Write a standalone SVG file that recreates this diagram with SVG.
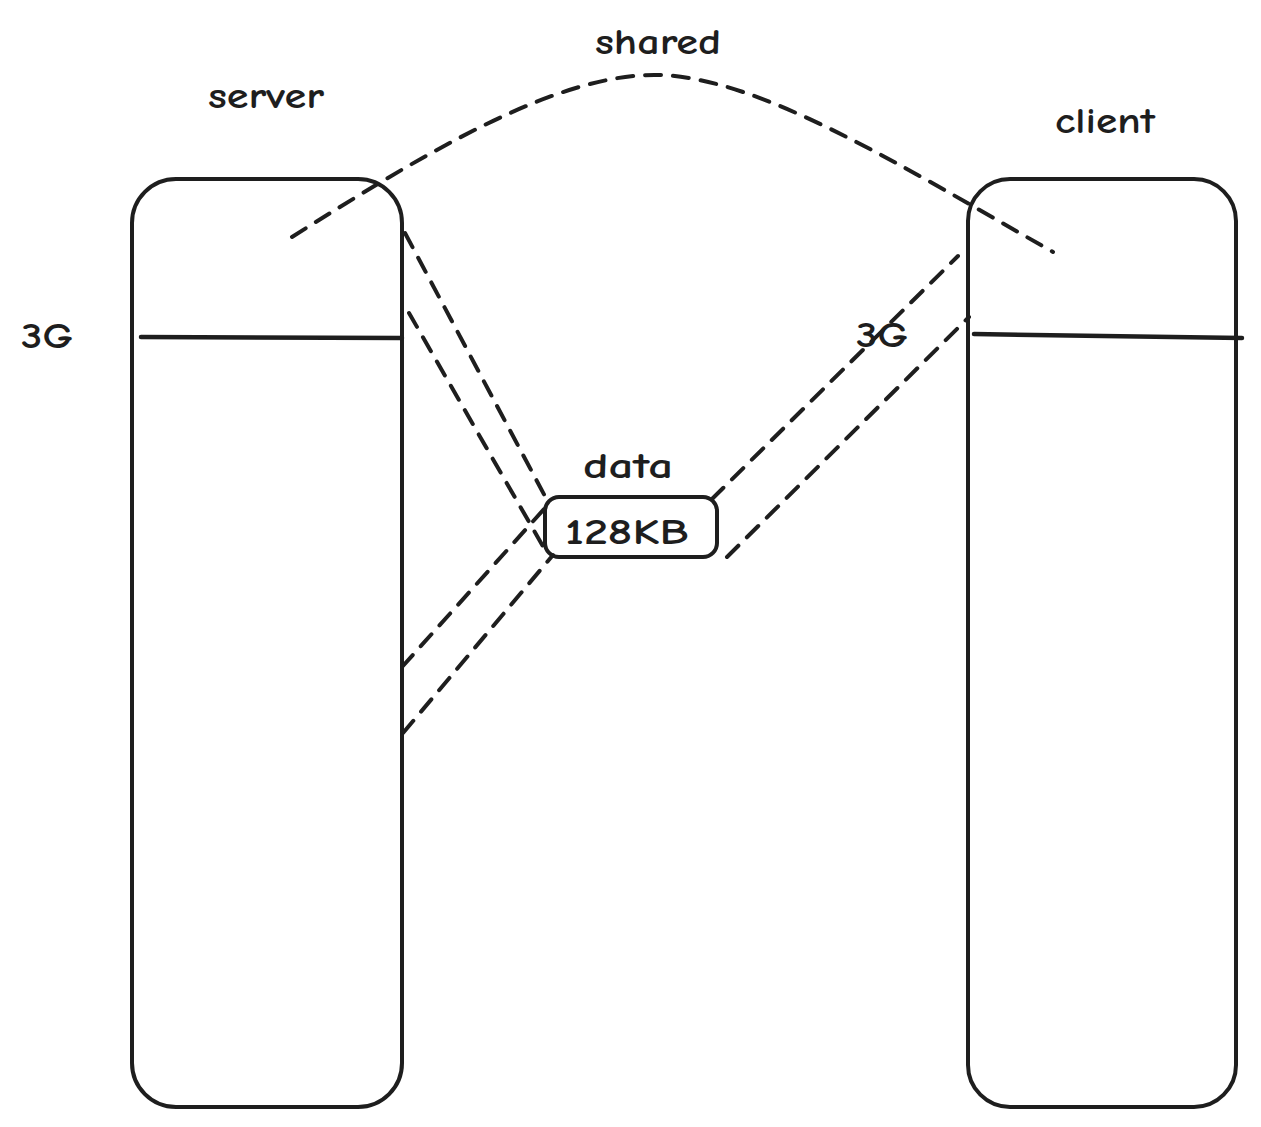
<svg xmlns="http://www.w3.org/2000/svg" width="1261" height="1127" viewBox="0 0 1261 1127">
  <style>
    .box { fill: none; stroke: #1e1e1e; stroke-width: 4; stroke-linecap: round; stroke-linejoin: round; }
    .solid { fill: none; stroke: #1e1e1e; stroke-width: 4.5; stroke-linecap: round; }
    .dash { fill: none; stroke: #1e1e1e; stroke-width: 4; stroke-dasharray: 16 12; stroke-linecap: round; }
    .lbl { font-family: "Comic Neue", "Liberation Sans", "DejaVu Sans", sans-serif; font-size: 36px; font-weight: bold; fill: #1e1e1e; text-anchor: middle; dominant-baseline: central; }
  </style>
  <rect width="1261" height="1127" fill="#ffffff"/>
  <g id="server">
    <rect class="box" x="132" y="179" width="270" height="928" rx="44"/>
    <line class="solid" x1="141" y1="337" x2="402" y2="338"/>
    <text class="lbl" x="266" y="96" textLength="116" lengthAdjust="spacingAndGlyphs">server</text>
    <text class="lbl" x="47" y="336" textLength="52" lengthAdjust="spacingAndGlyphs">3G</text>
  </g>
  <g id="client">
    <rect class="box" x="968" y="179" width="268" height="928" rx="42"/>
    <line class="solid" x1="974" y1="334" x2="1242" y2="338"/>
    <text class="lbl" x="1105" y="121" textLength="100" lengthAdjust="spacingAndGlyphs">client</text>
    <text class="lbl" x="882" y="335" textLength="52" lengthAdjust="spacingAndGlyphs">3G</text>
  </g>
  <g id="data">
    <rect class="box" x="545" y="497" width="172" height="60" rx="14"/>
    <text class="lbl" x="627" y="532" textLength="124" lengthAdjust="spacingAndGlyphs">128KB</text>
    <text class="lbl" x="628" y="466" textLength="90" lengthAdjust="spacingAndGlyphs">data</text>
  </g>
  <g id="shared-label">
    <text class="lbl" x="658" y="42" textLength="126" lengthAdjust="spacingAndGlyphs">shared</text>
  </g>
  <g id="connectors">
    <path class="dash" d="M292,237 C430,150 560,72 660,75 C760,78 900,165 1053,252"/>
    <line class="dash" x1="405" y1="233" x2="547" y2="500"/>
    <line class="dash" x1="409" y1="313" x2="548" y2="555"/>
    <line class="dash" x1="402" y1="667" x2="545" y2="508"/>
    <line class="dash" x1="403" y1="733" x2="553" y2="555"/>
    <line class="dash" x1="712" y1="499" x2="958" y2="256"/>
    <line class="dash" x1="727" y1="557" x2="969" y2="317"/>
  </g>
</svg>
